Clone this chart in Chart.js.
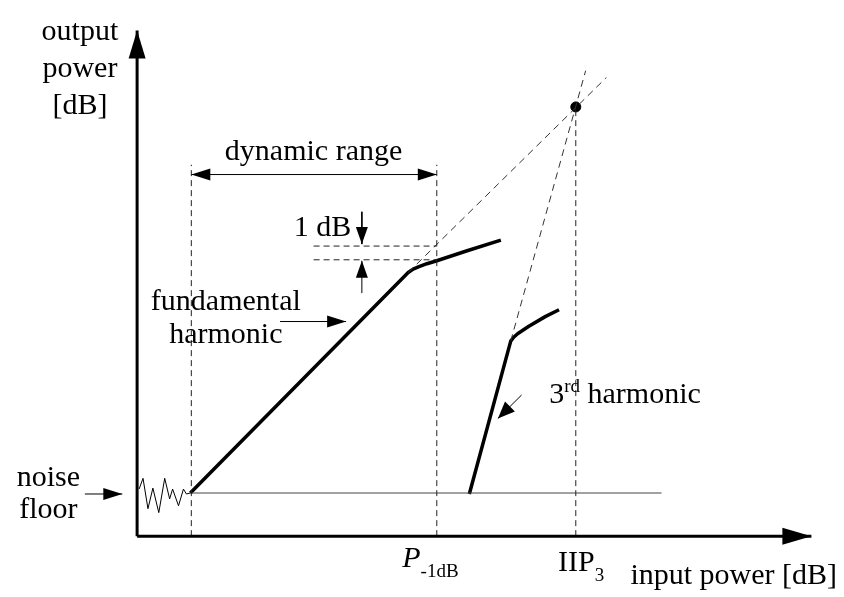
<!DOCTYPE html>
<html>
<head>
<meta charset="utf-8">
<script src="https://cdn.jsdelivr.net/npm/chart.js@4/dist/chart.umd.min.js"></script>
<style>
    html, body { margin: 0; padding: 0; background: #fff; }
    canvas { display: block; }
</style>
</head>
<body>
<canvas id="ampChart" width="844" height="597"></canvas>
<script>
// ========================
// Data (input / output power in dB, axes cross at 0,0)
// ========================
const noiseIn  = [0.2, 0.6, 1.1, 1.6, 2.2, 2.8, 3.3, 3.6, 4.2, 4.7, 5.0, 5.4];
const noiseOut = [4.8, 5.9, 2.8, 4.9, 2.4, 5.9, 3.8, 4.8, 3.1, 4.8, 4.3, 4.4];

const floorIn  = [5.4, 53.2];
const floorOut = [4.4, 4.4];

const fundIn   = [5.4, 27.5, 28.0, 28.6, 29.4, 30.4, 33.4, 36.9];
const fundOut  = [4.4, 26.9, 27.25, 27.5, 27.8, 28.1, 29.1, 30.2];

const thirdIn  = [33.7, 37.9, 38.2, 38.6, 39.7, 41.4, 42.8];
const thirdOut = [4.3, 19.9, 20.3, 20.65, 21.4, 22.4, 23.1];

const fundExtIn   = [27.5, 47.6];
const fundExtOut  = [26.9, 46.8];
const thirdExtIn  = [37.9, 45.5];
const thirdExtOut = [19.9, 47.5];

const floorX = 5.5;      // noise floor input level
const p1dbX  = 30.4;     // P-1dB
const iip3X  = 44.5;     // IIP3
const iip3Y  = 43.8;
const rangeTop = 37.9;
const oneDbHigh = 29.6;
const oneDbLow  = 28.2;
const oneDbLeft = 17.9;

const xAxisEnd = 68.4;
const yAxisEnd = 51.6;

// ========================
// Helpers
// ========================
function pts(xs, ys) {
    return xs.map((x, i) => ({ x: x, y: ys[i] }));
}

function line(xs, ys, opts) {
    return Object.assign({
        data: pts(xs, ys),
        showLine: true,
        pointRadius: 0,
        borderColor: '#000',
        backgroundColor: '#000',
        borderWidth: 1,
        tension: 0
    }, opts || {});
}

const dashed = { borderDash: [6, 4], borderColor: '#222' };

// arrow heads at the end (and start) of flagged datasets
const arrowPlugin = {
    id: 'arrowHeads',
    afterDatasetsDraw(chart) {
        const ctx = chart.ctx;
        chart.data.datasets.forEach((ds, i) => {
            if (!ds.arrow) return;
            const p = chart.getDatasetMeta(i).data;
            const head = (tip, from) => {
                const ang = Math.atan2(tip.y - from.y, tip.x - from.x);
                ctx.save();
                ctx.translate(tip.x, tip.y);
                ctx.rotate(ang);
                ctx.beginPath();
                ctx.moveTo(0, 0);
                ctx.lineTo(-ds.arrow.length, -ds.arrow.width / 2);
                ctx.lineTo(-ds.arrow.length, ds.arrow.width / 2);
                ctx.closePath();
                ctx.fillStyle = '#000';
                ctx.fill();
                ctx.restore();
            };
            head(p[p.length - 1], p[p.length - 2]);
            if (ds.arrow.both) head(p[0], p[1]);
        });
    }
};

// text labels placed in data coordinates (y = baseline)
const FONT = "'Liberation Serif', 'DejaVu Serif', serif";
const labels = [
    { x: -5.8, y: 50.6, align: 'center', runs: [{ t: 'output', s: 30 }] },
    { x: -5.8, y: 46.9, align: 'center', runs: [{ t: 'power', s: 30 }] },
    { x: -5.8, y: 43.1, align: 'center', runs: [{ t: '[dB]', s: 30 }] },
    { x: -9.0, y: 5.1, align: 'center', runs: [{ t: 'noise', s: 30 }] },
    { x: -9.0, y: 1.8, align: 'center', runs: [{ t: 'floor', s: 30 }] },
    { x: 17.9, y: 38.4, align: 'center', runs: [{ t: 'dynamic range', s: 30 }] },
    { x: 15.9, y: 30.6, align: 'left', runs: [{ t: '1 dB', s: 30 }] },
    { x: 9.0, y: 23.1, align: 'center', runs: [{ t: 'fundamental', s: 30 }] },
    { x: 9.0, y: 19.7, align: 'center', runs: [{ t: 'harmonic', s: 30 }] },
    { x: 41.8, y: 13.6, align: 'left', runs: [
        { t: '3', s: 30 }, { t: 'rd', s: 19, dy: -11 }, { t: ' harmonic', s: 30 }] },
    { x: 26.9, y: -3.1, align: 'left', runs: [
        { t: 'P', s: 30, it: true }, { t: '-1dB', s: 19, dy: 10 }] },
    { x: 42.7, y: -3.6, align: 'left', runs: [
        { t: 'IIP', s: 30 }, { t: '3', s: 19, dy: 10 }] },
    { x: 71.0, y: -4.9, align: 'right', runs: [{ t: 'input power [dB]', s: 30 }] }
];

const textPlugin = {
    id: 'diagramText',
    afterDraw(chart) {
        const ctx = chart.ctx;
        const sx = chart.scales.x, sy = chart.scales.y;
        ctx.save();
        ctx.fillStyle = '#000';
        ctx.textBaseline = 'alphabetic';
        ctx.textAlign = 'left';
        labels.forEach(l => {
            const font = r => (r.it ? 'italic ' : '') + r.s + 'px ' + FONT;
            let total = 0;
            l.runs.forEach(r => { ctx.font = font(r); total += ctx.measureText(r.t).width; });
            let px = sx.getPixelForValue(l.x);
            const py = sy.getPixelForValue(l.y);
            if (l.align === 'center') px -= total / 2;
            if (l.align === 'right') px -= total;
            l.runs.forEach(r => {
                ctx.font = font(r);
                ctx.fillText(r.t, px, py + (r.dy || 0));
                px += ctx.measureText(r.t).width;
            });
        });
        ctx.restore();
    }
};

// ========================
// Chart
// ========================
const datasets = [
    // axes
    line([0, 0], [0, yAxisEnd], { borderWidth: 3, arrow: { length: 28, width: 17 } }),
    line([0, xAxisEnd], [0, 0], { borderWidth: 3, arrow: { length: 29, width: 17 } }),

    // guide lines
    line([floorX, floorX], [0, rangeTop], dashed),
    line([p1dbX, p1dbX], [0, rangeTop], dashed),
    line([iip3X, iip3X], [0, iip3Y], dashed),
    line([oneDbLeft, p1dbX], [oneDbHigh, oneDbHigh], dashed),
    line([oneDbLeft, p1dbX], [oneDbLow, oneDbLow], dashed),
    line(fundExtIn, fundExtOut, { borderDash: [7, 5], borderColor: '#333' }),
    line(thirdExtIn, thirdExtOut, { borderDash: [7, 5], borderColor: '#333' }),

    // noise floor
    line(floorIn, floorOut, { borderColor: '#444' }),
    line(noiseIn, noiseOut, { borderColor: '#000' }),

    // responses
    line(fundIn, fundOut, { borderWidth: 3.5, borderJoinStyle: 'round' }),
    line(thirdIn, thirdOut, { borderWidth: 3.5, borderJoinStyle: 'round' }),

    // IIP3 point
    { data: [{ x: iip3X, y: iip3Y }], pointRadius: 5, backgroundColor: '#000', borderColor: '#000' },

    // annotation arrows
    line([floorX, p1dbX], [36.9, 36.9], { arrow: { length: 19, width: 12, both: true } }),
    line([22.8, 22.8], [33.1, 29.8], { arrow: { length: 17, width: 12 } }),
    line([22.8, 22.8], [24.8, 28.1], { arrow: { length: 17, width: 12 } }),
    line([-5.3, -1.5], [4.3, 4.3], { arrow: { length: 19, width: 12 } }),
    line([14.5, 21.2], [21.9, 21.9], { arrow: { length: 19, width: 12 } }),
    line([39.0, 36.6], [14.4, 12.0], { arrow: { length: 17, width: 14 } })
];

new Chart(document.getElementById('ampChart'), {
    type: 'scatter',
    data: { datasets: datasets },
    options: {
        responsive: false,
        animation: false,
        layout: { padding: 0 },
        plugins: {
            legend: { display: false },
            tooltip: { enabled: false }
        },
        scales: {
            x: { type: 'linear', display: false, min: -13.3, max: 71.1 },
            y: { type: 'linear', display: false, min: -5.6, max: 54.1 }
        }
    },
    plugins: [arrowPlugin, textPlugin]
});
</script>
</body>
</html>
